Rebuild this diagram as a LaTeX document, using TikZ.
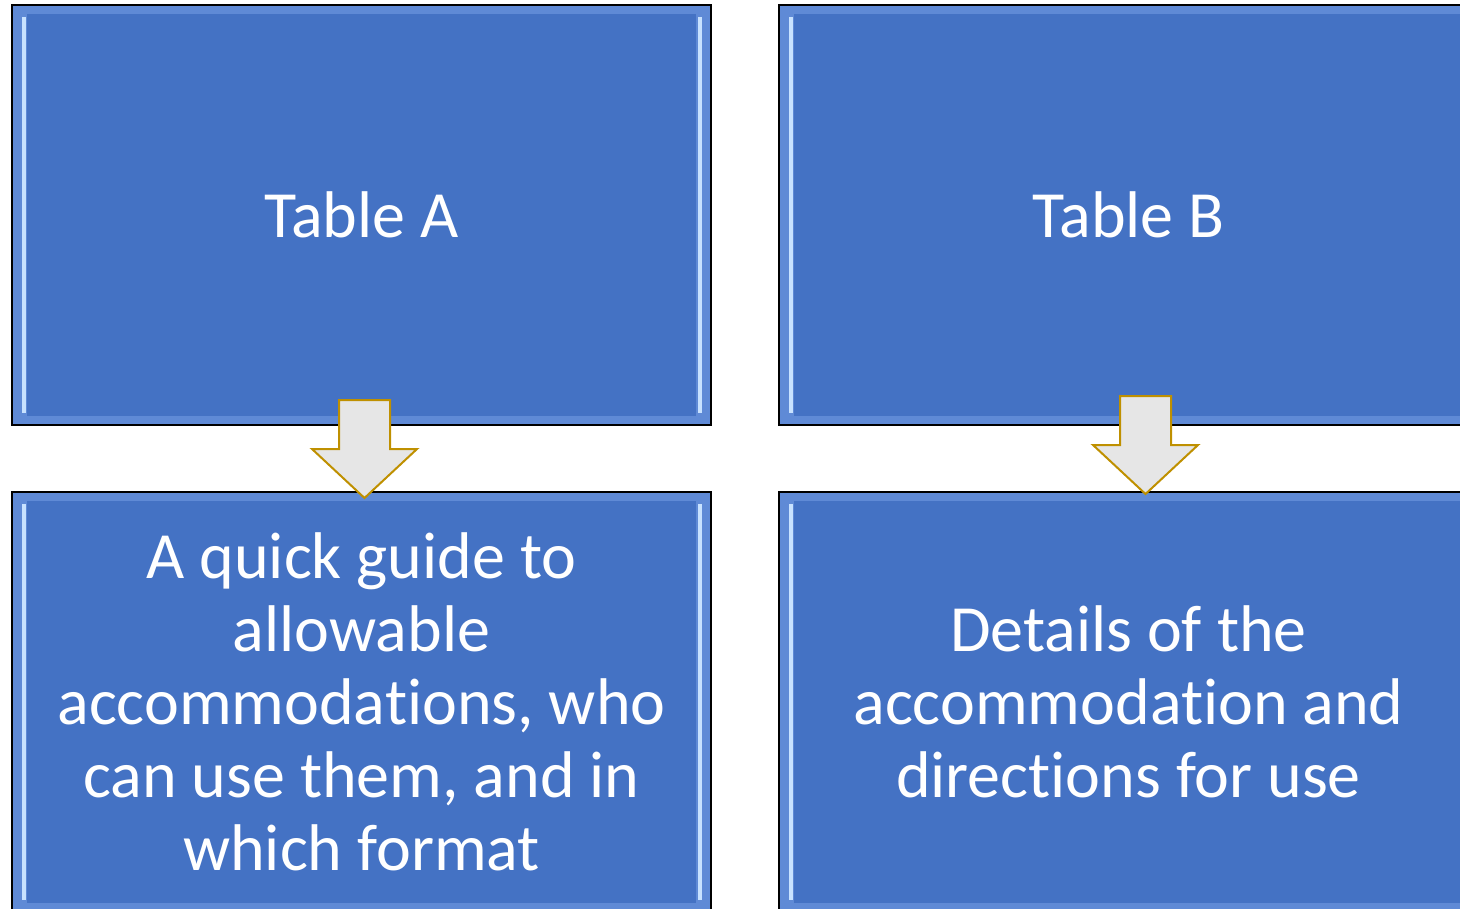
\documentclass[tikz,border=0pt]{standalone}
\usepackage{fontspec}
\setmainfont{Carlito}[RawFeature=-liga]
\definecolor{panelblue}{HTML}{4472C4}
\definecolor{bevelblue}{HTML}{5F8AD6}
\definecolor{shineblue}{HTML}{C8E2FF}
\definecolor{arrowgray}{HTML}{E6E6E6}
\definecolor{arrowgold}{HTML}{BF9000}
\begin{document}
\begin{tikzpicture}[x=0.5pt,y=-0.5pt,
  panel/.style={rectangle, draw=black, line width=1pt, fill=bevelblue,
    minimum width=349.5pt, minimum height=210pt, inner sep=0pt,
    text=white, align=center, font=\fontsize{33}{36.5}\selectfont,
    path picture={
      \fill[panelblue] ([shift={(7.5pt,-4.5pt)}]path picture bounding box.north west)
        rectangle ([shift={(-7.5pt,4.5pt)}]path picture bounding box.south east);
      \fill[shineblue] ([shift={(5pt,-6pt)}]path picture bounding box.north west)
        rectangle ([shift={(7pt,6pt)}]path picture bounding box.south west);
      \fill[shineblue] ([shift={(-6.5pt,-6pt)}]path picture bounding box.north east)
        rectangle ([shift={(-4.5pt,6pt)}]path picture bounding box.south east);
    }},
  downarrow/.style={draw=arrowgold, line width=1pt, fill=arrowgray, line join=miter}]

  \useasboundingbox (0,0) rectangle (1460,909);

  % panels
  \node[panel] (tableA) at (361.5,215) {Table A};
  \node[panel] (tableB) at (1128.5,215) {Table B};
  \node[panel] (guideA) at (361.5,702)
    {A quick guide to\\allowable\\accommodations, who\\can use them, and in\\which format};
  \node[panel] (guideB) at (1128.5,702)
    {Details of the\\accommodation and\\directions for use};

  % block arrows
  \coordinate (arrA) at (364.5,400);
  \coordinate (arrB) at (1145.5,396);
  \draw[downarrow] (arrA) ++(-25.5,0) -- ++(51,0) -- ++(0,49) -- ++(27,0)
    -- ++(-52.5,49) -- ++(-52.5,-49) -- ++(27,0) -- cycle;
  \draw[downarrow] (arrB) ++(-25.5,0) -- ++(51,0) -- ++(0,49) -- ++(27,0)
    -- ++(-52.5,49) -- ++(-52.5,-49) -- ++(27,0) -- cycle;

\end{tikzpicture}
\end{document}
